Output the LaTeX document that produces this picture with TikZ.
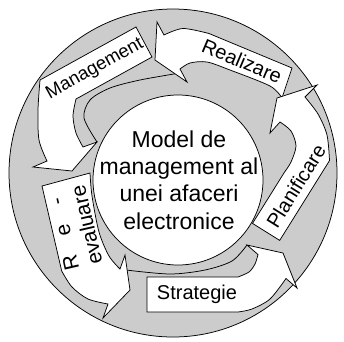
\documentclass[tikz,border=0pt]{standalone}
\usepackage{fontspec}
\setmainfont{Liberation Sans}
\definecolor{ringgray}{RGB}{204,204,204}

\begin{document}
\begin{tikzpicture}[x=1pt,y=-1pt,line width=0.75pt,
  band/.style={draw=black,fill=white},
  tag/.style={inner sep=0pt,font=\fontsize{20}{23}\selectfont}]
\useasboundingbox (0,0) rectangle (344,341);
% ring and centre
\draw[fill=ringgray] (173,173) circle (164);
\draw[fill=white] (178,180) circle (85);
\node[align=center,font=\fontsize{23}{27.2}\selectfont] (model) at (179,180)
  {Model de\\management al\\unei afaceri\\electronice};
% back sides of the ribbons
\draw plot[smooth] coordinates {(97,142) (84,118) (90,100) (110,88) (140,80) (180,73)};
\draw plot[smooth] coordinates {(247,245) (232,261) (205,270) (170,274) (126,270)};
% Management
\draw[band] (40,80) -- (136,27) -- (152,57) -- (76,99)
  -- plot[smooth] coordinates {(76,99) (73,116) (76,133) (83,147)}
  -- (97,142) -- (72,171) -- (33,167) -- (47,161)
  -- plot[smooth] coordinates {(47,161) (39,140) (38,110) (40,80)} -- cycle;
% Realizare
\draw[band] (164,35) -- plot[smooth] coordinates {(164,35) (183,28.5) (209,33.5)}
  -- (292,68) -- (282,98)
  -- plot[smooth] coordinates {(282,98) (270,86) (230,70) (207,62) (190,63) (180,69)}
  -- (187,82) -- (155,60) -- (157,22) -- cycle;
% Planificare
\draw[band] (252.5,223.4) -- (279.7,240.4) -- (329.5,160.6)
  -- plot[smooth] coordinates {(329.5,160.6) (327,135) (318,114) (305,97)}
  -- (317,85) -- (277,98) -- (270,133) -- (280,122)
  -- plot[smooth] coordinates {(280,122) (291,131) (296,146) (291,162) (284.6,172)}
  -- cycle;
% Strategie
\draw[band] (147,277) -- (238,277)
  -- plot[smooth] coordinates {(238,277) (249,272) (255,264) (258,254.5)}
  -- (247,245) -- (283,253) -- (297,288) -- (286,278.5)
  -- plot[smooth] coordinates {(286,278.5) (270,299) (252,309) (238,312)}
  -- (147,312) -- cycle;
% Re-evaluare
\draw[band] (42,186) -- (90,173)
  -- plot[smooth] coordinates {(90,173) (92,196) (99,232) (109,256) (120,269)}
  -- (125,255) -- (130,290) -- (103,318) -- (108,304)
  -- plot[smooth] coordinates {(108,304) (88,299) (72,287) (61.7,271)}
  -- cycle;
% labels
\node[tag,font=\fontsize{18.5}{20}\selectfont,rotate=29] (mgmt) at (95,69) {Management};
\node[tag,rotate=-23] (real) at (242,61) {Realizare};
\node[tag,rotate=58] (plan) at (296,186) {Planificare};
\node[tag] (strat) at (197,294) {Strategie};
\node[tag,font=\fontsize{21}{24}\selectfont,rotate=103,align=left] (reeval) at (75,228)
  {\makebox[74pt][s]{R e -}\\evaluare};
\end{tikzpicture}
\end{document}
